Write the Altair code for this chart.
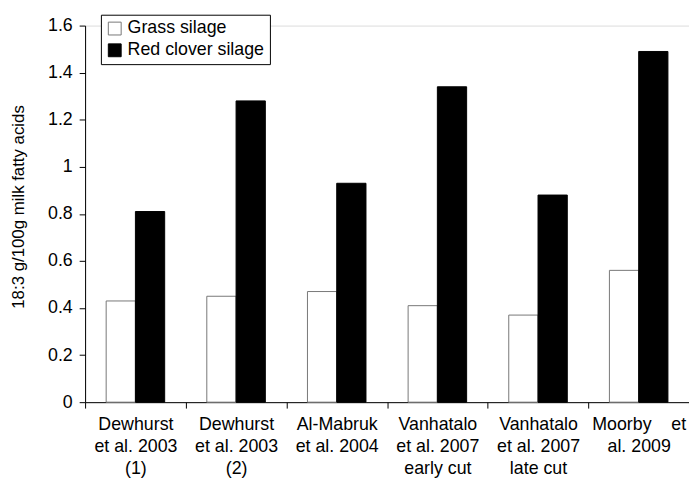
import altair as alt
import pandas as pd

categories = ["Dewhurst\net al. 2003\n(1)", "Dewhurst\net al. 2003\n(2)", "Al-Mabruk\net al. 2004",
              "Vanhatalo\net al. 2007\nearly cut", "Vanhatalo\net al. 2007\nlate cut",
              "Moorby\u00a0\u00a0\u00a0\u00a0et\nal. 2009"]
series = ["Grass silage", "Red clover silage"]
grass = [0.43, 0.45, 0.47, 0.41, 0.37, 0.56]
clover = [0.81, 1.28, 0.93, 1.34, 0.88, 1.49]
y_ticks = [0, 0.2, 0.4, 0.6, 0.8, 1.0, 1.2, 1.4, 1.6]

rows = []
for c, g, r in zip(categories, grass, clover):
    rows.append({"study": c, "series": series[0], "value": g})
    rows.append({"study": c, "series": series[1], "value": r})
df = pd.DataFrame(rows)

FONT = "Liberation Sans"

chart = alt.Chart(df).mark_bar(strokeWidth=1).encode(
    x=alt.X("study:N", sort=categories, title=None,
            scale=alt.Scale(paddingInner=0, paddingOuter=0),
            axis=alt.Axis(labelAngle=0, tickBand="extent", labelExpr="split(datum.label, '\\n')",
                          labelLineHeight=22, labelFontSize=18, labelPadding=8, tickSize=6,
                          domainColor="black", tickColor="black", labelColor="black",
                          labelFont=FONT, labelBaseline="top")),
    xOffset=alt.XOffset("series:N", sort=series, scale=alt.Scale(paddingOuter=0.72, paddingInner=0)),
    y=alt.Y("value:Q", title="18:3 g/100g milk fatty acids",
            scale=alt.Scale(domain=[0, 1.6], nice=False),
            axis=alt.Axis(values=y_ticks, grid=False, tickSize=6, labelFontSize=18, labelPadding=7,
                          labelExpr="format(datum.value, '.2~f')",
                          titleFontSize=17, titleFontWeight="normal", titlePadding=20, titleY=183,
                          domainColor="black", tickColor="black", labelColor="black", titleColor="black",
                          labelFont=FONT, titleFont=FONT)),
    fill=alt.Fill("series:N", sort=series, title=None,
                  scale=alt.Scale(domain=series, range=["white", "black"]),
                  legend=alt.Legend(orient="none", legendX=16, legendY=-11, symbolType="square",
                                    symbolSize=169, symbolStrokeColor="#333", symbolStrokeWidth=1,
                                    labelFontSize=18, labelFont=FONT, labelColor="black",
                                    strokeColor="black", padding=5, rowPadding=4, labelOffset=4,
                                    fillColor="white")),
    stroke=alt.Stroke("series:N", sort=series, legend=None,
                      scale=alt.Scale(domain=series, range=["#777777", "black"])),
).properties(
    width=611, height=381,
    padding={"left": 78, "top": 15, "right": 0, "bottom": 80},
    autosize=alt.AutoSizeParams(type="none"),
).configure_view(stroke=None).configure(font=FONT)

chart.save("out.html", embed_options={"renderer": "svg", "actions": False})
